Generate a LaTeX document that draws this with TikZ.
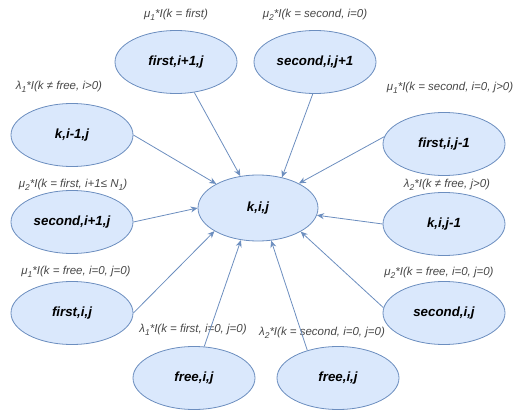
\documentclass[tikz,border=0pt]{standalone}
\usepackage{fontspec}
\setmainfont{Liberation Sans}
\usetikzlibrary{shapes.geometric,arrows.meta}
\definecolor{efill}{HTML}{DAE8FC}
\definecolor{edraw}{HTML}{6C8EBF}
\definecolor{lbl}{HTML}{474747}
\newcommand\sbs[1]{\raisebox{-0.5ex}{\fontsize{8.5}{8.5}\selectfont #1}}
\tikzset{
 st/.style={ellipse, draw=edraw, fill=efill, line width=0.8pt, minimum width=122pt, minimum height=63pt, inner sep=0pt, font=\fontsize{13.3}{15}\selectfont\bfseries\itshape},
 lab/.style={text=lbl, font=\fontsize{11.5}{13}\selectfont\itshape, inner sep=0pt},
 arr/.style={draw=edraw, line width=0.8pt, -{Stealth[length=7pt,width=6pt]}}
}
\begin{document}
\begin{tikzpicture}[x=1pt,y=-1pt]
\useasboundingbox (0,0) rectangle (517,412);
% nodes
\node[st, minimum width=120pt, minimum height=66pt] (c) at (258,208) {k,i,j};
\node[st] (a1) at (176,62) {first,i+1,j};
\node[st] (a2) at (315,62) {second,i,j+1};
\node[st] (a3) at (72,135) {k,i-1,j};
\node[st] (a4) at (444,144) {first,i,j-1};
\node[st] (a5) at (72,222) {second,i+1,j};
\node[st] (a6) at (444,224) {k,i,j-1};
\node[st] (a7) at (72,313) {first,i,j};
\node[st] (a8) at (444,313) {second,i,j};
\node[st] (a9) at (194,378) {free,i,j};
\node[st] (a10) at (338,378) {free,i,j};
% labels
\node[lab] (l1) at (176,15) {μ\sbs{1}*I(k = first)};
\node[lab] (l2) at (315,15) {μ\sbs{2}*I(k = second, i=0)};
\node[lab] (l3) at (59,87) {λ\sbs{1}*I(k ≠ free, i>0)};
\node[lab] (l4) at (450,88) {μ\sbs{1}*I(k = second, i=0, j>0)};
\node[lab] (l5) at (73,185) {μ\sbs{2}*I(k = first, i+1≤ N\sbs{1})};
\node[lab] (l6) at (447,185) {λ\sbs{2}*I(k ≠ free, j>0)};
\node[lab] (l7) at (76,272) {μ\sbs{1}*I(k = free, i=0, j=0)};
\node[lab] (l8) at (439,273) {μ\sbs{2}*I(k = free, i=0, j=0)};
\node[lab] (l9) at (193,330) {λ\sbs{1}*I(k = first, i=0, j=0)};
\node[lab] (l10) at (322,333) {λ\sbs{2}*I(k = second, i=0, j=0)};
% connectors
\draw[arr] (a1.301) -- (c.119);
\draw[arr] (a2.266) -- (c.52);
\draw[arr] (a3.0) -- (c.150);
\draw[arr] (a4.173) -- (c.31);
\draw[arr] (a5.0) -- (c.180);
\draw[arr] (a6.180) -- (c.-7);
\draw[arr] (a7.0) -- (c.208);
\draw[arr] (a8.175) -- (c.331);
\draw[arr] (a9.72) -- (c.242);
\draw[arr] (a10.138) -- (c.292);
\end{tikzpicture}
\end{document}
